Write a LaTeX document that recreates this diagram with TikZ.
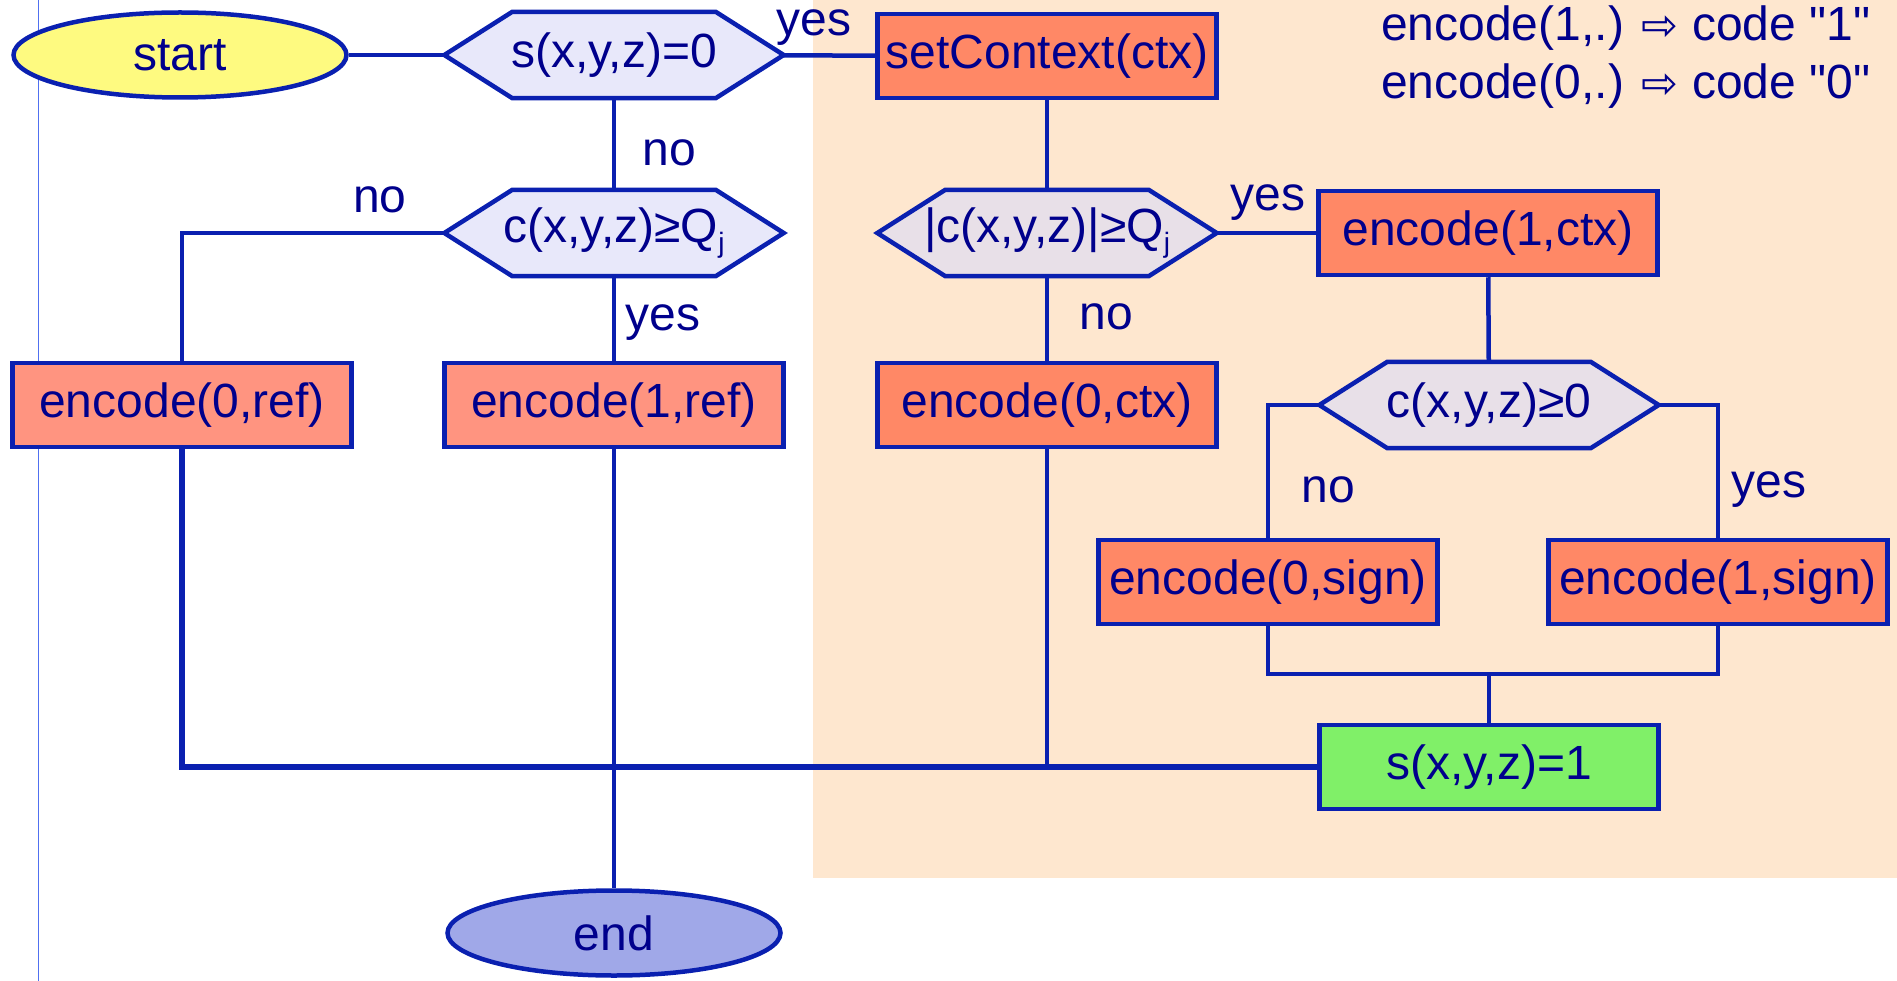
\documentclass[tikz,border=0pt]{standalone}
\usepackage{fontspec}
\setmainfont{Liberation Sans}
\newfontfamily\symfont{DejaVu Sans}
\newfontfamily\qfont{Liberation Sans}
\usetikzlibrary{shapes.geometric,backgrounds,calc}
\definecolor{ln}{HTML}{0A20B0}
\definecolor{txt}{HTML}{00008C}
\definecolor{peach}{HTML}{FEE7CF}
\definecolor{salmonA}{HTML}{FF8866}
\definecolor{salmonB}{HTML}{FF9480}
\definecolor{hexA}{HTML}{E8E8FA}
\definecolor{hexB}{HTML}{E8E0E8}
\definecolor{startfill}{HTML}{FEFA80}
\definecolor{endfill}{HTML}{A0A8E8}
\definecolor{greenfill}{HTML}{80F068}
\definecolor{thinline}{HTML}{5070F0}
\newcommand{\subj}{{\fontsize{28}{28}\selectfont\raisebox{-10pt}{j}}}
\newcommand{\legarrow}{{\symfont\fontsize{44}{44}\selectfont ⇨}}
\begin{document}
\begin{tikzpicture}[x=1pt,y=-1pt,
  every node/.style={font=\fontsize{48}{56}\selectfont, text=txt},
  box/.style={rectangle, draw=ln, line width=4.5pt, minimum width=339pt, minimum height=84pt, inner sep=0pt},
  hexa/.style={rectangle, minimum width=339pt, minimum height=86pt, inner sep=0pt},
  hexshape/.style={draw=ln, line width=4.5pt, line join=miter},
  term/.style={ellipse, draw=ln, line width=4.5pt, minimum width=333pt, minimum height=85pt, inner sep=0pt},
  lbl/.style={inner sep=0pt},
  conn/.style={draw=ln, line width=4.5pt}
]
\useasboundingbox (0,0) rectangle (1897,981);

% nodes
\node[term, fill=startfill] (start) at (180,55) {start};
\node[hexa] (s0) at (614,55) {s(x,y,z)=0};
\node[box, fill=salmonA] (setctx) at (1047,56) {setContext(ctx)};
\node[hexa] (cq) at (614,233) {c(x,y,z)≥Q\subj};
\node[hexa] (acq) at (1047,233) {|c(x,y,z)|≥Q\subj};
\node[box, fill=salmonA] (e1ctx) at (1488,233) {encode(1,ctx)};
\node[box, fill=salmonB] (e0ref) at (182,405) {encode(0,ref)};
\node[box, fill=salmonB] (e1ref) at (614,405) {encode(1,ref)};
\node[box, fill=salmonA] (e0ctx) at (1047,405) {encode(0,ctx)};
\node[hexa] (c0) at (1489,405) {c(x,y,z)≥0};
\node[box, fill=salmonA] (e0sign) at (1268,582) {encode(0,sign)};
\node[box, fill=salmonA] (e1sign) at (1718,582) {encode(1,sign)};
\node[box, fill=greenfill] (s1) at (1489,767) {s(x,y,z)=1};
\node[term, fill=endfill] (end) at (614,933) {end};

% labels
\node[lbl] (y1) at (814,28) {yes};
\node[lbl] (n1) at (669,153) {no};
\node[lbl] (n2) at (380,200) {no};
\node[lbl] (y2) at (663,323) {yes};
\node[lbl] (y3) at (1268,203) {yes};
\node[lbl] (n3) at (1106,317) {no};
\node[lbl] (n4) at (1328,490) {no};
\node[lbl] (y4) at (1769,490) {yes};
\node[lbl, anchor=west] (lg1) at (1381,28) {encode(1,.) \legarrow{} code {\qfont"1"}};
\node[lbl, anchor=west] (lg2) at (1381,86) {encode(0,.) \legarrow{} code {\qfont"0"}};

\begin{pgfonlayer}{background}
  \fill[peach] (813,0) rectangle (1897,878);
  \draw[thinline, line width=1pt] (38,0) -- (38,981);
  \foreach \h/\c in {s0/hexA, cq/hexA, acq/hexB, c0/hexB}{
    \filldraw[hexshape, fill=\c] (\h.west) -- ($(\h.north west)+(68,0)$) -- ($(\h.north east)+(-68,0)$)
      -- (\h.east) -- ($(\h.south east)+(-68,0)$) -- ($(\h.south west)+(68,0)$) -- cycle;
  }
\end{pgfonlayer}

% connectors
\draw[conn] (start) -- (s0);
\draw[conn] (s0) -- (setctx);
\draw[conn] (s0) -- (cq);
\draw[conn] (cq.west) -| (e0ref.north);
\draw[conn] (cq) -- (e1ref);
\draw[conn] (setctx) -- (acq);
\draw[conn] (acq) -- (e1ctx);
\draw[conn] (acq) -- (e0ctx);
\draw[conn] (e1ctx) -- (c0);
\draw[conn] (c0.west) -| (e0sign.north);
\draw[conn] (c0.east) -| (e1sign.north);
\coordinate (jn) at (1489,674);
\draw[conn] (e0sign.south) |- (jn) -| (e1sign.south);
\draw[conn] (jn) -- (s1);
\draw[conn, line width=5.5pt] (e0ref.south) |- (s1.west);
\draw[conn] (e1ref) -- (end);
\draw[conn] (e0ctx.south) -- (e0ctx.south |- s1.west);
\end{tikzpicture}
\end{document}
